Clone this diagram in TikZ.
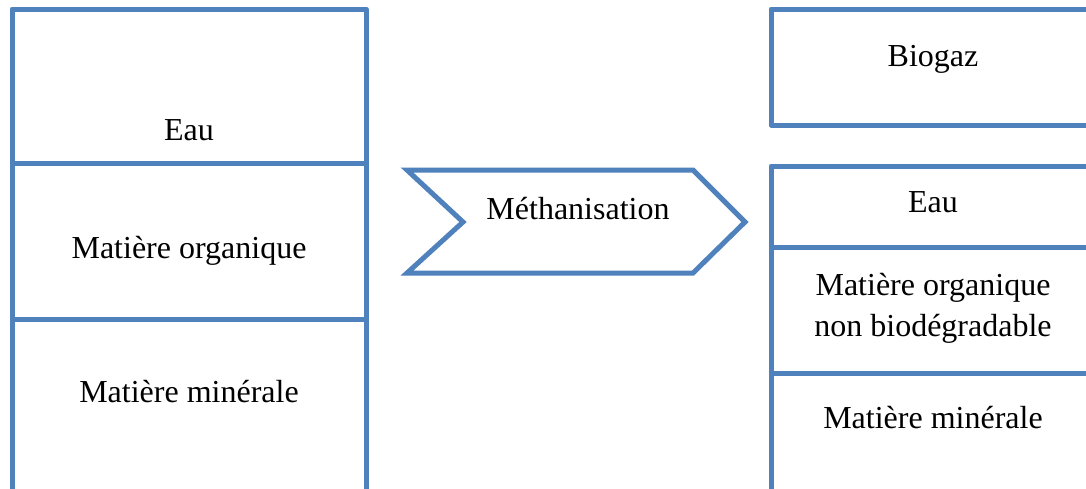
\documentclass[tikz,border=0pt]{standalone}
\usepackage{fontspec}
\setmainfont{Liberation Serif}
\usepackage{xcolor}
\definecolor{bleuOffice}{RGB}{79,129,189}
\usetikzlibrary{positioning}

\begin{document}
\begin{tikzpicture}[x=0.5pt,y=-0.5pt,
        cadre/.style={draw=bleuOffice, line width=2.5pt, line join=round},
        etiquette/.style={font=\fontsize{16}{20.5}\selectfont, anchor=base, align=center, inner sep=0pt}]
    \useasboundingbox (0,0) rectangle (1086,488);
    \clip (0,0) rectangle (1086,488);
    \fill[white] (0,0) rectangle (1086,488);

    % avant
    \draw[cadre] (12,500) -- (12,9) -- (366,9) -- (366,500);
    \draw[cadre] (12,163) -- (366,163) (12,319) -- (366,319);
    \node[etiquette] (eauAvant) at (189,140) {Eau};
    \node[etiquette] (organique) at (189,258) {Matière organique};
    \node[etiquette] (mineralAvant) at (189,402) {Matière minérale};

    % fleche
    \draw[cadre, line join=miter] (407,170) -- (693,170) -- (745,222) -- (693,273) -- (407,273) -- (463,222) -- cycle;
    \node[etiquette] (metha) at (578,219) {Méthanisation};

    % apres
    \draw[cadre] (1100,9) -- (771,9) -- (771,125) -- (1100,125);
    \draw[cadre] (1100,166) -- (771,166) -- (771,500);
    \draw[cadre] (771,247) -- (1100,247) (771,373) -- (1100,373);
    \node[etiquette] (biogaz) at (933,66) {Biogaz};
    \node[etiquette] (eauApres) at (933,212) {Eau};
    \node[etiquette] (nonBio) at (933,336) {Matière organique\\non biodégradable};
    \node[etiquette] (mineralApres) at (933,428) {Matière minérale};
\end{tikzpicture}
\end{document}
